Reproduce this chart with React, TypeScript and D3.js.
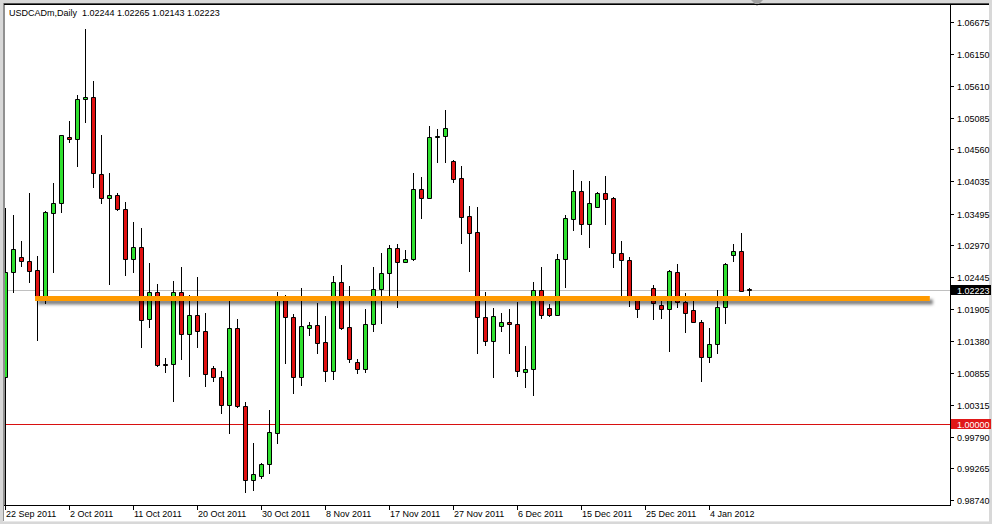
import React from "react";
import * as d3 from "d3";

const symbolTitle = "USDCADm,Daily\u00a0 1.02244 1.02265 1.02143 1.02223";

const opens = [
  1.00782, 1.0253, 1.02769, 1.02702, 1.02558, 1.02115, 1.03509, 1.03665, 1.04761, 1.04728,
  1.05392, 1.05425, 1.04147, 1.03748, 1.03798, 1.03566, 1.02736, 1.0294, 1.0174, 1.02188,
  1.00998, 1.00998, 1.02188, 1.01491, 1.01806, 1.01545, 1.00926, 1.00782, 1.00317, 1.0159,
  1.003, 0.99072, 0.99143, 0.99338, 0.99847, 1.0206, 1.01773, 1.00777, 1.0159, 1.0164,
  1.01363, 1.00886, 1.02354, 1.01607, 1.01026, 1.0092, 1.01657, 1.02238, 1.02503, 1.02918,
  1.02696, 1.02736, 1.03898, 1.03758, 1.04774, 1.04787, 1.04367, 1.0408, 1.03454, 1.03189,
  1.01773, 1.01384, 1.01633, 1.0169, 1.01662, 1.0087, 1.0091, 1.02226, 1.01927, 1.01806,
  1.02736, 1.0341, 1.03864, 1.03317, 1.03599, 1.03831, 1.03748, 1.02835, 1.02724, 1.02052,
  1.02085, 1.02259, 1.01972, 1.01906, 1.0253, 1.02027, 1.01894, 1.0169, 1.01109, 1.01325,
  1.01949, 1.02802, 1.02868, 1.02244,
];

const highs = [
  1.03587, 1.03471, 1.03044, 1.03831, 1.0279, 1.03542, 1.03997, 1.04799, 1.05031, 1.05463,
  1.06554, 1.05695, 1.04799, 1.04163, 1.03841, 1.03682, 1.03355, 1.0325, 1.02679, 1.02321,
  1.01092, 1.02375, 1.02613, 1.02143, 1.02447, 1.01849, 1.00969, 1.00881, 1.02043, 1.01745,
  1.00375, 0.99681, 0.99359, 1.00234, 1.02188, 1.02143, 1.01828, 1.02254, 1.017, 1.02015,
  1.01794, 1.02458, 1.02641, 1.02292, 1.01081, 1.01911, 1.02613, 1.02835, 1.02973, 1.0299,
  1.0289, 1.04173, 1.04097, 1.04948, 1.04894, 1.05214, 1.04384, 1.04284, 1.0362, 1.03599,
  1.02198, 1.01922, 1.01839, 1.01906, 1.02032, 1.01296, 1.02354, 1.02613, 1.01994, 1.02824,
  1.03471, 1.04218, 1.04035, 1.04035, 1.03858, 1.04118, 1.03775, 1.03044, 1.02779, 1.02115,
  1.0211, 1.02301, 1.0206, 1.02558, 1.02658, 1.02181, 1.0206, 1.01728, 1.0159, 1.02226,
  1.02679, 1.0299, 1.03167, 1.02265,
];

const lows = [
  0.9865, 1.02198, 1.02624, 1.02364, 1.01396, 1.02015, 1.0253, 1.03526, 1.04688, 1.04289,
  1.0502, 1.03931, 1.03675, 1.02321, 1.03554, 1.02475, 1.0253, 1.01285, 1.01607, 1.00969,
  1.0087, 1.00388, 1.01076, 1.00803, 1.01285, 1.00632, 1.00715, 1.00179, 0.99857, 1.00284,
  0.98865, 0.98906, 0.991, 0.99183, 0.99691, 1.01019, 1.00511, 1.00649, 1.01474, 1.01185,
  1.0072, 1.00744, 1.01579, 1.01031, 1.00843, 1.0087, 1.0155, 1.01683, 1.02126, 1.01949,
  1.02691, 1.02724, 1.03426, 1.03753, 1.04356, 1.04356, 1.04014, 1.03011, 1.02546, 1.01185,
  1.01313, 1.00787, 1.0155, 1.01175, 1.00798, 1.00621, 1.00483, 1.01756, 1.01794, 1.01803,
  1.02281, 1.03222, 1.03156, 1.02945, 1.03596, 1.03322, 1.02603, 1.0206, 1.0196, 1.01773,
  1.0206, 1.0174, 1.01756, 1.01218, 1.01939, 1.01534, 1.01687, 1.0072, 1.01036, 1.01175,
  1.01673, 1.02712, 1.02209, 1.02143,
];

const closes = [
  1.02525, 1.02902, 1.02702, 1.02546, 1.02093, 1.03516, 1.03665, 1.04794, 1.04728, 1.05392,
  1.05425, 1.04163, 1.03748, 1.03798, 1.03566, 1.02736, 1.0294, 1.01728, 1.02188, 1.00981,
  1.00989, 1.02188, 1.01491, 1.01806, 1.01545, 1.00827, 1.00787, 1.00317, 1.0159, 1.003,
  0.99072, 0.99167, 0.99338, 0.99864, 1.0206, 1.01773, 1.00777, 1.01628, 1.0164, 1.01351,
  1.00886, 1.02354, 1.016, 1.01081, 1.0092, 1.01657, 1.02238, 1.02503, 1.02918, 1.02683,
  1.02736, 1.03898, 1.03758, 1.04771, 1.04782, 1.0491, 1.04074, 1.03446, 1.03177, 1.01773,
  1.01384, 1.01794, 1.0169, 1.01657, 1.00881, 1.00915, 1.02226, 1.01806, 1.01806, 1.02736,
  1.03416, 1.03864, 1.03317, 1.03665, 1.03831, 1.03742, 1.02835, 1.02716, 1.02118, 1.01906,
  1.0208, 1.02002, 1.01906, 1.02541, 1.02027, 1.01839, 1.0169, 1.01109, 1.01325, 1.01939,
  1.02658, 1.02868, 1.02214, 1.02223,
];

const priceTicks = [
  "1.06675", "1.06150", "1.05610", "1.05085", "1.04560", "1.04035", "1.03495", "1.02970",
  "1.02445", "1.01905", "1.01380", "1.00855", "1.00315", "0.99790", "0.99265", "0.98740",
];

const dateTickIndex = [0, 8, 16, 24, 32, 40, 48, 56, 64, 72, 80, 88];
const dateTickLabels = [
  "22 Sep 2011", "2 Oct 2011", "11 Oct 2011", "20 Oct 2011", "30 Oct 2011", "8 Nov 2011",
  "17 Nov 2011", "27 Nov 2011", "6 Dec 2011", "15 Dec 2011", "25 Dec 2011", "4 Jan 2012",
];

const bidPrice = 1.02223;
const parityPrice = 1.0;
const supportPrice = 1.02085;
const supportFromIdx = 3.75;
const supportToIdx = 115.6;

const W = 992;
const H = 524;
const PL = 4;
const PT = 4;
const PR = 950;
const PB = 505;
const FONT = "'Liberation Sans', Arial, sans-serif";

export default function App() {
  const y = d3.scaleLinear().domain([0.9874, 1.06675]).range([500, 22]);
  const x = d3.scaleLinear().domain([0, 93]).range([5, 749]);
  const snap = (v: number) => Math.round(v) + 0.5;

  const candles = opens.map((o, i) => {
    const c = closes[i];
    const up = c > o;
    const cx = x(i) + 0.5;
    const yt = snap(y(Math.max(o, c)));
    const yb = snap(y(Math.min(o, c)));
    const yh = Math.round(y(highs[i]));
    const yl = Math.round(y(lows[i]));
    return (
      <g key={i}>
        <line x1={cx} x2={cx} y1={yh} y2={yl + 1} stroke="#000" strokeWidth={1} />
        <path
          d={`M${cx - 2},${yt}h4v${yb - yt}h-4Z`}
          fill={up ? "#2fe02f" : "#e01010"}
          stroke="#000"
          strokeWidth={1}
        />
      </g>
    );
  });

  const sx0 = x(supportFromIdx);
  const sx1 = x(supportToIdx);
  const sy = y(supportPrice);

  return (
    <svg
      width={W}
      height={H}
      style={{ position: "absolute", left: 0, top: 0, display: "block" }}
      fontFamily={FONT}
    >
      <defs>
        <clipPath id="plotClip">
          <rect x={PL + 0.5} y={PT + 1} width={PR - PL - 0.5} height={PB - PT - 1} />
        </clipPath>
        <filter id="shadow" filterUnits="userSpaceOnUse" x={0} y={250} width={W} height={100}>
          <feDropShadow dx="3" dy="3.5" stdDeviation="1.6" floodColor="#000" floodOpacity="0.5" />
        </filter>
      </defs>
      <rect x={0} y={0} width={W} height={H} fill="#d8d8d8" />
      <rect x={3} y={3} width={986} height={518} fill="#ffffff" />
      <line x1={3} x2={989} y1={3.5} y2={3.5} stroke="#505050" />
      <line x1={3.5} x2={3.5} y1={3} y2={521} stroke="#909090" />
      <line x1={3} x2={989} y1={521.5} y2={521.5} stroke="#e8e8e8" />
      <polygon points="751,0 763,0 757,6" fill="#a0a0a0" />

      <g clipPath="url(#plotClip)">
        <line x1={PL} x2={PR} y1={snap(y(bidPrice))} y2={snap(y(bidPrice))} stroke="#c0c0c0" />
        <line x1={PL} x2={PR} y1={snap(y(parityPrice))} y2={snap(y(parityPrice))} stroke="#d81010" />
        {candles}
        <rect
          x={sx0}
          y={sy - 2.5}
          width={sx1 - sx0}
          height={5}
          fill="#ff9a00"
          filter="url(#shadow)"
        />
      </g>

      <line x1={4.5} x2={4.5} y1={PT} y2={PB} stroke="#909090" />
      <line x1={PL} x2={PR + 1} y1={PB + 0.5} y2={PB + 0.5} stroke="#000" />
      <line x1={PR + 0.5} x2={PR + 0.5} y1={PT} y2={PB + 1} stroke="#000" />
      <line x1={PL} x2={989} y1={4.5} y2={4.5} stroke="#000" />

      {priceTicks.map((t) => {
        const ty = Math.round(y(+t)) + 0.5;
        return (
          <g key={t}>
            <line x1={PR + 1} x2={PR + 4} y1={ty} y2={ty} stroke="#000" />
            <text x={957} y={ty + 3.5} fontSize={9} fill="#000">
              {t}
            </text>
          </g>
        );
      })}

      {[
        { p: bidPrice, bg: "#000000" },
        { p: parityPrice, bg: "#e01818" },
      ].map((b) => {
        const by = Math.round(y(b.p));
        return (
          <g key={b.p}>
            <rect x={PR + 1} y={by - 5} width={40} height={10} fill={b.bg} />
            <text x={957} y={by + 3.5} fontSize={9} fill="#fff">
              {b.p.toFixed(5)}
            </text>
          </g>
        );
      })}

      {dateTickIndex.map((idx, k) => {
        const tx = x(idx) + 0.5;
        return (
          <g key={idx}>
            <line x1={tx} x2={tx} y1={PB} y2={PB + 5} stroke="#000" />
            <text x={tx + 0.5} y={517} fontSize={9} fill="#000">
              {dateTickLabels[k]}
            </text>
          </g>
        );
      })}

      <text x={9} y={16} fontSize={9} fill="#000">
        {symbolTitle}
      </text>
    </svg>
  );
}
